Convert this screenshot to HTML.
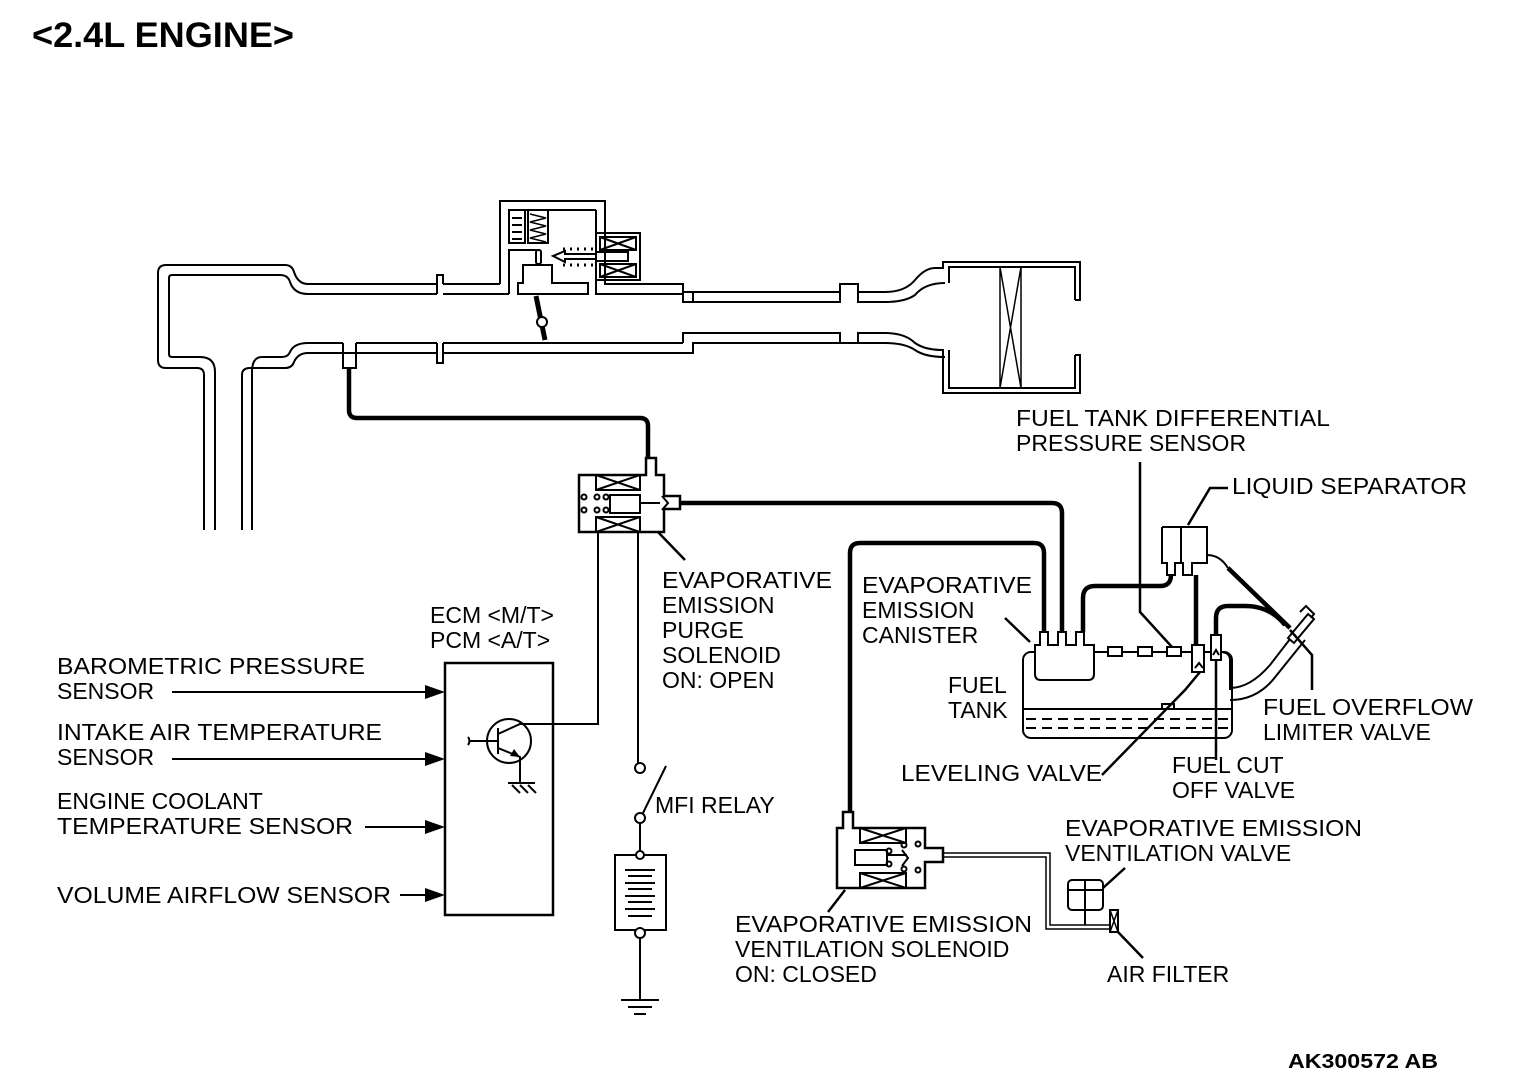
<!DOCTYPE html>
<html><head><meta charset="utf-8"><style>
html,body{margin:0;padding:0;background:#fff;}
svg{display:block}
text{font-family:"Liberation Sans",sans-serif;font-size:23px;fill:#000}
</style></head><body>
<svg width="1520" height="1080" viewBox="0 0 1520 1080" xmlns="http://www.w3.org/2000/svg">
<g fill="none" stroke="#000" stroke-width="2">
<!-- manifold outer -->
<path d="M204,530 V375 Q204,368 197,368 H166 Q158,368 158,360 V273 Q158,265 166,265 H285 Q292,265 294,272 Q298,284 308,284 H437"/>
<path d="M215,530 V372 Q215,357 200,357 H172 Q169,357 169,354 V278 Q169,275 172,275 H280 Q288,275 290,282 Q294,294 308,294 H437"/>
<path d="M242,530 V375 Q242,368 250,368 H285 Q292,368 294,362 Q298,353 308,353 H437"/>
<path d="M252,530 V372 Q252,357 262,357 H282 Q288,357 290,352 Q294,343 308,343 H343"/>
<path d="M356,343 H437"/>
<!-- flange top -->
<path d="M437,284 V275 H443 V284 M437,294 V284 M443,284 H500"/>
<path d="M443,294 H509"/>
<!-- flange bottom -->
<path d="M437,343 V353 M443,343 V363 H437 V353 M443,353 H683 M443,343 H683"/>
<path d="M343,343 V368 H356 V343"/>
<!-- throttle housing -->
<path d="M500,284 V201 H605 V284 H683 V292 H693 V302 M596,210 V294 H683 V302 H693"/>
<path d="M509,294 V250 H537 M509,210 H596"/>
<rect x="509" y="210" width="16" height="33"/>
<rect x="528" y="210" width="20" height="33"/>
<path d="M512,218h10M512,225h10M512,232h10M512,239h10" stroke-width="2"/>
<path d="M530,214l16,4l-16,4l16,4l-16,4l16,4l-16,4l16,4" stroke-width="1.5"/>
<rect x="536" y="250" width="5" height="14" rx="2"/>
<path d="M523,283 V265 H552 V283 H588 V294 H518 V283 Z"/>
<path d="M536,296 L545,340" stroke-width="5"/>
<circle cx="542" cy="322" r="5" fill="#fff"/>
<!-- ISC -->
<rect x="596" y="233" width="44" height="47"/>
<rect x="600" y="237" width="36" height="13"/><path d="M600,237l36,13M600,250l36,-13"/>
<rect x="600" y="264" width="36" height="13"/><path d="M600,264l36,13M600,277l36,-13"/>
<rect x="596" y="252" width="32" height="9"/>
<path d="M596,254 H565 V251 L553,256 L565,262 V259 H596" />
<path d="M563,249 H595 M563,265 H595" stroke-dasharray="2,5" stroke-width="3"/>
<!-- pipe to air cleaner -->
<path d="M693,292 H840 V284 H858 V292 H885 Q905,292 915,280 Q925,268 935,268 H943 V262 H1080 V300 H1075"/>
<path d="M693,302 H840 V292 M858,292 V302 H885 Q905,302 915,295 Q925,283 945,283"/>
<path d="M683,343 V333 H693 H840 V343 H858 V333 H885 Q905,333 915,343 Q925,350 943,350 V393 H1080 V355 H1075"/>
<path d="M683,353 H693 V343 H840 M858,343 H885 Q905,343 915,350 Q925,357 945,357"/>
<path d="M949,283 V267 H1075 V300 M949,350 V388 H1075 V355"/>
<path d="M1000,267 V388 M1021,267 V388 M1000,267 L1021,388 M1021,267 L1000,388" stroke-width="1.5"/>
<!-- ECM -->
<rect x="445" y="663" width="108" height="252" stroke-width="2.5"/>
<circle cx="509" cy="741" r="22"/>
<path d="M498,728 V754 M470,741 H498 M498,734 L520,724 H598 V532 M498,748 L520,757 V783"/>
<path d="M468,737 q3,4 0,8"/>
<path d="M508,783 H535 M512,785l8,8 M520,785l8,8 M528,785l8,8"/>
<!-- ECM arrows -->
<path d="M172,692 H432 M172,759 H432 M365,827 H432 M400,895 H432"/>
<!-- relay circuit -->
<path d="M638,532 V763 M640,823 V851 M640,938 V1000 M621,1000 h38 M628,1007 h24 M634,1014 h12"/>
<circle cx="640" cy="768" r="5"/><circle cx="640" cy="818" r="5"/>
<path d="M643,813 L666,766"/>
<rect x="615" y="855" width="51" height="75"/>
<circle cx="640" cy="855" r="4" fill="#fff"/><circle cx="640" cy="933" r="5" fill="#fff"/>
<path d="M625,870h30M628,876h24M625,883h30M628,889h24M625,896h30M628,902h24M625,909h30M628,916h24" stroke-width="2"/>
<!-- purge solenoid -->
<path d="M579,475 H646 V458 H656 V475 H664 V496 H680 V509 H664 V532 H579 Z" stroke-width="2.5"/>
<rect x="596" y="475" width="44" height="15"/><path d="M596,475l44,15M596,490l44,-15"/>
<rect x="596" y="517" width="44" height="15"/><path d="M596,517l44,15M596,532l44,-15"/>
<rect x="610" y="495" width="30" height="18"/>
<path d="M640,503 H660 M662,496 l6,7 l-6,7"/>
<circle cx="584" cy="497" r="2.5"/><circle cx="597" cy="497" r="2.5"/><circle cx="606" cy="497" r="2.5"/>
<circle cx="584" cy="510" r="2.5"/><circle cx="597" cy="510" r="2.5"/><circle cx="606" cy="510" r="2.5"/>
<!-- vent solenoid -->
<path d="M837,828 H843 V812 H853 V828 H925 V848 H943 V862 H925 V888 H837 Z" stroke-width="2.5"/>
<rect x="860" y="828" width="46" height="15"/><path d="M860,828l46,15M860,843l46,-15"/>
<rect x="860" y="873" width="46" height="15"/><path d="M860,873l46,15M860,888l46,-15"/>
<rect x="855" y="850" width="32" height="15"/>
<path d="M887,855h20 M902,850l6,8l-6,8"/>
<circle cx="889" cy="851" r="2.5"/><circle cx="889" cy="864" r="2.5"/><circle cx="904" cy="845" r="2.5"/><circle cx="904" cy="869" r="2.5"/><circle cx="918" cy="844" r="2.5"/><circle cx="918" cy="870" r="2.5"/>
<!-- thin double hose -->
<path d="M943,853 H1050 V925 H1110 M943,857 H1046 V929 H1110" stroke-width="1.5"/>
<rect x="1068" y="880" width="35" height="30" rx="4"/>
<path d="M1068,890 H1103 M1085,880 V925" />
<rect x="1110" y="910" width="8" height="22"/><path d="M1110,910l8,22M1118,910l-8,22" stroke-width="1.5"/>
<!-- tank -->
<rect x="1023" y="652" width="209" height="86" rx="8"/>
<path d="M1023,709 H1232"/>
<path d="M1026,719 H1230 M1026,728 H1230" stroke-dasharray="10,6"/>
<path d="M1162,709 v-5 h12 v5" />
<path d="M1035,645 H1040 V632 H1048 V645 H1058 V632 H1066 V645 H1076 V632 H1084 V645 H1094 V674 Q1094,680 1088,680 H1041 Q1035,680 1035,674 Z" fill="#fff"/>
<path d="M1094,652 H1192 M1205,652 H1212"/>
<rect x="1108" y="647" width="14" height="9" fill="#fff"/>
<rect x="1138" y="647" width="14" height="9" fill="#fff"/>
<rect x="1167" y="647" width="14" height="9" fill="#fff"/>
<rect x="1192" y="645" width="12" height="27" fill="#fff"/>
<rect x="1211" y="635" width="10" height="25" fill="#fff"/>
<path d="M1195,668 l4,-5 l4,5 M1213,655 l3,-5 l3,5"/>
<path d="M1220,652 Q1230,652 1230,660 V690 M1230,688 Q1250,688 1270,665 L1297,630 M1230,700 Q1258,700 1276,676 L1305,640"/>
<path d="M1288,638 l20,-24 l6,5 l-20,24 Z" fill="#fff"/>
<path d="M1300,612 l6,-6 l8,8 l-3,4"/>
<!-- liquid separator -->
<path d="M1162,527 H1207 V555 Q1220,555 1228,568 M1162,527 V563 H1167 V575 H1175 V563 H1183 V575 H1192 V563 H1207 V555 M1181,527 V563"/>
</g>
<!-- thick hoses -->
<g fill="none" stroke="#000" stroke-width="4.5">
<path d="M349,368 V410 Q349,418 357,418 H640 Q648,418 648,426 V458"/>
<path d="M680,503 H1052 Q1062,503 1062,513 V632"/>
<path d="M1044,632 V553 Q1044,543 1034,543 H860 Q850,543 850,553 V812"/>
<path d="M1083,632 V598 Q1083,586 1095,586 H1160 Q1171,586 1171,575"/>
<path d="M1196,575 V645"/>
<path d="M1216,635 V618 Q1216,606 1228,606 H1245 Q1270,606 1285,625"/>
<path d="M1228,568 L1290,628"/>
</g>
<!-- leader lines -->
<g fill="none" stroke="#000" stroke-width="2.5">
<path d="M1140,462 V612 L1172,647"/>
<path d="M1228,488 H1210 L1188,525"/>
<path d="M1030,642 L1005,618"/>
<path d="M1200,672 L1185,690 L1102,775"/>
<path d="M1216,660 V760"/>
<path d="M1290,630 L1312,655 V690"/>
<path d="M658,532 L685,560"/>
<path d="M845,890 L828,912"/>
<path d="M1103,888 L1125,868"/>
<path d="M1118,932 L1143,958"/>
</g>
<g fill="#000">
<path d="M445,692 l-20,-7 v14z"/><path d="M445,759 l-20,-7 v14z"/><path d="M445,827 l-20,-7 v14z"/><path d="M445,895 l-20,-7 v14z"/>
<path d="M520,757 l-10,-1 l4,-7z"/>
</g>
<text x="32" y="47" style="font-size:35px;font-weight:bold" textLength="262" lengthAdjust="spacingAndGlyphs">&lt;2.4L ENGINE&gt;</text>
<text x="57" y="674" textLength="308" lengthAdjust="spacingAndGlyphs">BAROMETRIC PRESSURE</text>
<text x="57" y="699">SENSOR</text>
<text x="57" y="740" textLength="325" lengthAdjust="spacingAndGlyphs">INTAKE AIR TEMPERATURE</text>
<text x="57" y="765">SENSOR</text>
<text x="57" y="809">ENGINE COOLANT</text>
<text x="57" y="834" textLength="296" lengthAdjust="spacingAndGlyphs">TEMPERATURE SENSOR</text>
<text x="57" y="903" textLength="334" lengthAdjust="spacingAndGlyphs">VOLUME AIRFLOW SENSOR</text>
<text x="430" y="623">ECM &lt;M/T&gt;</text>
<text x="430" y="648">PCM &lt;A/T&gt;</text>
<text x="662" y="588" textLength="170" lengthAdjust="spacingAndGlyphs">EVAPORATIVE</text>
<text x="662" y="613">EMISSION</text>
<text x="662" y="638">PURGE</text>
<text x="662" y="663">SOLENOID</text>
<text x="662" y="688">ON: OPEN</text>
<text x="655" y="813">MFI RELAY</text>
<text x="1016" y="426" textLength="314" lengthAdjust="spacingAndGlyphs">FUEL TANK DIFFERENTIAL</text>
<text x="1016" y="451">PRESSURE SENSOR</text>
<text x="1232" y="494" textLength="235" lengthAdjust="spacingAndGlyphs">LIQUID SEPARATOR</text>
<text x="862" y="593" textLength="170" lengthAdjust="spacingAndGlyphs">EVAPORATIVE</text>
<text x="862" y="618">EMISSION</text>
<text x="862" y="643">CANISTER</text>
<text x="948" y="693">FUEL</text>
<text x="948" y="718">TANK</text>
<text x="1263" y="715" textLength="210" lengthAdjust="spacingAndGlyphs">FUEL OVERFLOW</text>
<text x="1263" y="740">LIMITER VALVE</text>
<text x="901" y="781" textLength="201" lengthAdjust="spacingAndGlyphs">LEVELING VALVE</text>
<text x="1172" y="773">FUEL CUT</text>
<text x="1172" y="798">OFF VALVE</text>
<text x="1065" y="836" textLength="297" lengthAdjust="spacingAndGlyphs">EVAPORATIVE EMISSION</text>
<text x="1065" y="861">VENTILATION VALVE</text>
<text x="735" y="932" textLength="297" lengthAdjust="spacingAndGlyphs">EVAPORATIVE EMISSION</text>
<text x="735" y="957">VENTILATION SOLENOID</text>
<text x="735" y="982">ON: CLOSED</text>
<text x="1107" y="982">AIR FILTER</text>
<text x="1288" y="1068" style="font-size:20px;font-weight:bold" textLength="150" lengthAdjust="spacingAndGlyphs">AK300572 AB</text>
</svg>
</body></html>
